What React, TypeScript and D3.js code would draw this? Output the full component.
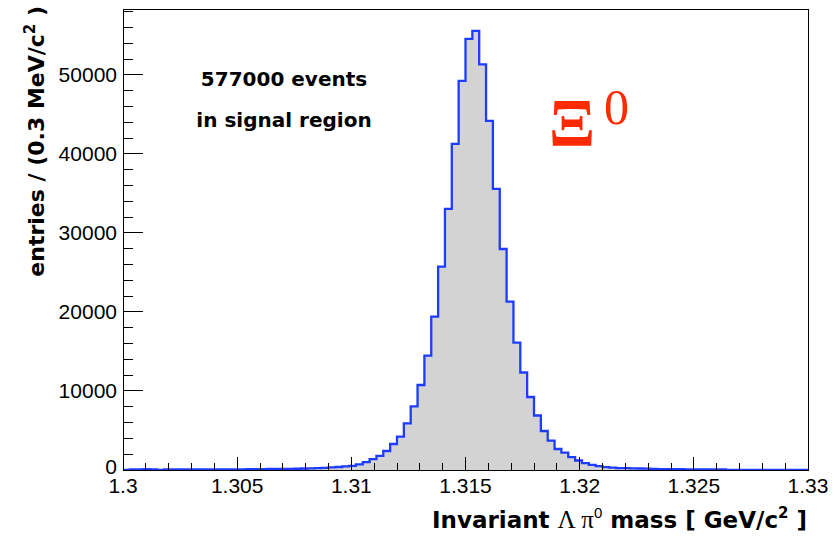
import React from 'react';
import * as d3 from 'd3';

const X_MIN = 1.3;
const X_MAX = 1.33;
const BIN_WIDTH = 0.0003;

// bins 0-34
const leftTailCounts = [
  20, 90, 90, 100, 90, 0, 70, 80, 70, 80, 80, 90, 80, 90, 80, 90, 90, 90, 100, 100, 100,
  130, 140, 150, 150, 160, 190, 210, 250, 280, 330, 380, 450, 530, 720,
];
// bins 35-67
const peakCounts = [
  1000, 1370, 1790, 2405, 3291, 4219, 5907, 8060, 10759, 14473, 19409, 25738, 33038,
  41266, 49240, 54557, 55570, 51350, 44177, 35570, 27975, 21308, 16118, 12340, 9240,
  6900, 4937, 3713, 2658, 2200, 1620, 1200, 880,
];
// bins 68-99
const rightTailCounts = [
  640, 500, 360, 290, 250, 230, 210, 190, 170, 150,
  120, 110, 100, 100, 90, 90, 80, 80, 80, 70,
  10, 10, 10, 10, 10, 10, 10, 10, 10, 10, 10, 10,
];
const binCounts = [...leftTailCounts, ...peakCounts, ...rightTailCounts];

const xMajorTicks = [1.3, 1.305, 1.31, 1.315, 1.32, 1.325, 1.33];
const xTickLabels = ['1.3', '1.305', '1.31', '1.315', '1.32', '1.325', '1.33'];
const yMajorTicks = [0, 10000, 20000, 30000, 40000, 50000];
const yTickLabels = ['0', '10000', '20000', '30000', '40000', '50000'];

const annotationLines = ['577000 events', 'in signal region'];

const W = 837;
const H = 537;
const FRAME = { left: 123, right: 808, top: 9, bottom: 470 };

export default function App() {
  const yMax = 1.05 * (d3.max(binCounts) as number);
  const x = d3.scaleLinear().domain([X_MIN, X_MAX]).range([FRAME.left, FRAME.right]);
  const y = d3.scaleLinear().domain([0, yMax]).range([FRAME.bottom, FRAME.top]);

  const pts: [number, number][] = [];
  pts.push([x(X_MIN), y(0)]);
  binCounts.forEach((v, i) => {
    const x0 = X_MIN + i * BIN_WIDTH;
    const x1 = x0 + BIN_WIDTH;
    pts.push([x(x0), y(v)]);
    pts.push([x(x1), y(v)]);
  });
  pts.push([x(X_MAX), y(0)]);
  const line = d3.line<[number, number]>().x((d) => d[0]).y((d) => d[1]);
  const stepPath = line(pts) || '';
  const fillPath = stepPath + 'Z';

  const xMinor = d3.range(0, 31).map((i) => X_MIN + i * 0.001);
  const yMinor = d3.range(0, Math.floor(yMax / 2000) + 1).map((i) => i * 2000);

  const tickFont = "'Liberation Sans', Arial, sans-serif";
  const boldFont = "'DejaVu Sans', sans-serif";

  return (
    <svg
      width={W}
      height={H}
      viewBox={`0 0 ${W} ${H}`}
      style={{ position: 'absolute', left: 0, top: 0, background: '#fff' }}
    >
      <rect x={0} y={0} width={W} height={H} fill="#fff" />
      <defs>
        <clipPath id="frameClip">
          <rect x={FRAME.left} y={FRAME.top} width={FRAME.right - FRAME.left} height={FRAME.bottom - FRAME.top} />
        </clipPath>
      </defs>
      <g clipPath="url(#frameClip)">
        <path d={fillPath} fill="#d3d3d3" stroke="none" />
        <path d={stepPath} fill="none" stroke="#1e3cff" strokeWidth={2.3} />
      </g>

      <rect
        x={FRAME.left}
        y={FRAME.top}
        width={FRAME.right - FRAME.left}
        height={FRAME.bottom - FRAME.top}
        fill="none"
        stroke="#000"
        strokeWidth={1}
        shapeRendering="crispEdges"
      />

      <g stroke="#000" strokeWidth={1} shapeRendering="crispEdges">
        {xMinor.map((t, i) => (
          <line key={'xm' + i} x1={x(t)} x2={x(t)} y1={FRAME.bottom} y2={FRAME.bottom - 7} />
        ))}
        {xMajorTicks.map((t, i) => (
          <line key={'xM' + i} x1={x(t)} x2={x(t)} y1={FRAME.bottom} y2={FRAME.bottom - 13} />
        ))}
        {yMinor.map((t, i) => (
          <line key={'ym' + i} x1={FRAME.left} x2={FRAME.left + 10} y1={y(t)} y2={y(t)} />
        ))}
        {yMajorTicks.map((t, i) => (
          <line key={'yM' + i} x1={FRAME.left} x2={FRAME.left + 20} y1={y(t)} y2={y(t)} />
        ))}
      </g>

      <g fontFamily={tickFont} fontSize={21} fill="#000">
        {xMajorTicks.map((t, i) => (
          <text key={'xl' + i} x={x(t)} y={493} textAnchor="middle">
            {xTickLabels[i]}
          </text>
        ))}
        {yMajorTicks.map((t, i) => (
          <text key={'yl' + i} x={117} y={y(t) + (i === 0 ? 3.5 : 7.5)} textAnchor="end">
            {yTickLabels[i]}
          </text>
        ))}
      </g>

      <text x={807} y={528} textAnchor="end" fontFamily={boldFont} fontWeight="bold" fontSize={23} fill="#000">
        Invariant{' '}
        <tspan fontFamily="'Liberation Serif', serif" fontWeight="normal" fontSize={25}>Λ</tspan>
        <tspan fontFamily="'Liberation Serif', serif" fontWeight="normal" fontSize={25}>{' π'}</tspan>
        <tspan dy={-10} fontSize={15} fontFamily={tickFont} fontWeight="normal">0</tspan>
        <tspan dy={10}> mass [ GeV/c</tspan>
        <tspan dy={-10} fontSize={15}>2</tspan>
        <tspan dy={10}> ]</tspan>
      </text>

      <text
        transform="translate(44,6) rotate(-90)"
        textAnchor="end"
        fontFamily={boldFont}
        fontWeight="bold"
        fontSize={22}
        fill="#000"
      >
        entries / (0.3 MeV/c
        <tspan dy={-9} fontSize={15}>2</tspan>
        <tspan dy={9}> )</tspan>
      </text>

      <g fontFamily={boldFont} fontWeight="bold" fontSize={20} fill="#000" textAnchor="middle">
        {annotationLines.map((s, i) => (
          <text key={'a' + i} x={284} y={86 + i * 40.5}>
            {s}
          </text>
        ))}
      </g>

      <text x={549} y={145} fill="#ff2a00" fontFamily="'Liberation Serif', serif" fontSize={68}>
        <tspan fontWeight="bold">Ξ</tspan>
        <tspan dx={9} dy={-21} fontSize={50}>0</tspan>
      </text>
    </svg>
  );
}
